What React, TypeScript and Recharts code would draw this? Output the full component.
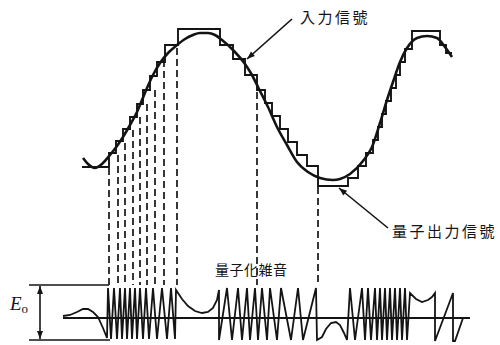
import React from "react";
import {
  ComposedChart,
  Line,
  XAxis,
  YAxis,
  ReferenceLine,
  ReferenceDot
} from "recharts";

// t = time, v = level (grows downward on the page, axis is reversed)
const inputSignal = [
  { t: 83, v: 158 }, { t: 88, v: 164 }, { t: 95, v: 168 }, { t: 102, v: 164 },
  { t: 110, v: 155 }, { t: 117, v: 146 }, { t: 123, v: 137 }, { t: 130, v: 125 },
  { t: 137, v: 112 }, { t: 142, v: 100 }, { t: 147, v: 88 }, { t: 153, v: 75 },
  { t: 160, v: 63 }, { t: 168, v: 53 }, { t: 177, v: 45 }, { t: 185, v: 39 },
  { t: 193, v: 35 }, { t: 200, v: 33 }, { t: 208, v: 33 }, { t: 215, v: 35 },
  { t: 222, v: 40 }, { t: 233, v: 50 }, { t: 245, v: 64 }, { t: 252, v: 75 },
  { t: 258, v: 87 }, { t: 268, v: 107 }, { t: 277, v: 127 }, { t: 287, v: 145 },
  { t: 297, v: 162 }, { t: 308, v: 172 }, { t: 320, v: 178 }, { t: 333, v: 180 },
  { t: 340, v: 179 }, { t: 350, v: 174 }, { t: 363, v: 161 }, { t: 372, v: 147 },
  { t: 380, v: 123 }, { t: 387, v: 100 }, { t: 393, v: 82 }, { t: 400, v: 62 },
  { t: 407, v: 48 }, { t: 417, v: 38 }, { t: 427, v: 36 }, { t: 437, v: 38 },
  { t: 445, v: 47 }, { t: 452, v: 57 }
];

const quantizedOutput = [
  { t: 82, v: 167 }, { t: 109, v: 153 }, { t: 116, v: 141 }, { t: 123, v: 129 },
  { t: 130, v: 117 }, { t: 137, v: 104 }, { t: 143, v: 90 }, { t: 150, v: 76 },
  { t: 157, v: 62 }, { t: 165, v: 45 }, { t: 178, v: 29 }, { t: 220, v: 45 },
  { t: 233, v: 59 }, { t: 245, v: 75 }, { t: 257, v: 90 }, { t: 265, v: 103 },
  { t: 272, v: 116 }, { t: 280, v: 129 }, { t: 288, v: 142 }, { t: 297, v: 155 },
  { t: 307, v: 166 }, { t: 318, v: 186 }, { t: 348, v: 178 }, { t: 358, v: 166 },
  { t: 366, v: 153 }, { t: 373, v: 140 }, { t: 378, v: 127 }, { t: 382, v: 114 },
  { t: 386, v: 101 }, { t: 391, v: 88 }, { t: 396, v: 75 }, { t: 400, v: 62 },
  { t: 405, v: 49 }, { t: 412, v: 31 }, { t: 440, v: 45 }, { t: 446, v: 53 },
  { t: 452, v: 53 }
];

const quantNoise = [
  { t: 63, v: 316 }, { t: 70, v: 315 }, { t: 77, v: 312 }, { t: 83, v: 309 },
  { t: 88, v: 309 }, { t: 93, v: 312 }, { t: 98, v: 317 }, { t: 103, v: 328 },
  { t: 107, v: 338 }, { t: 108, v: 288 }, { t: 111, v: 339 }, { t: 114, v: 288 },
  { t: 117, v: 339 }, { t: 120, v: 288 }, { t: 122, v: 339 }, { t: 125, v: 288 },
  { t: 127, v: 339 }, { t: 130, v: 288 }, { t: 132, v: 339 }, { t: 135, v: 288 },
  { t: 137, v: 339 }, { t: 140, v: 288 }, { t: 143, v: 339 }, { t: 146, v: 288 },
  { t: 149, v: 339 }, { t: 153, v: 288 }, { t: 157, v: 339 }, { t: 162, v: 288 },
  { t: 167, v: 339 }, { t: 171, v: 288 }, { t: 175, v: 339 }, { t: 176, v: 290 },
  { t: 182, v: 299 }, { t: 188, v: 306 }, { t: 195, v: 311 }, { t: 202, v: 313 },
  { t: 208, v: 312 }, { t: 213, v: 308 }, { t: 217, v: 300 }, { t: 219, v: 290 },
  { t: 219, v: 340 }, { t: 227, v: 288 }, { t: 232, v: 340 }, { t: 238, v: 288 },
  { t: 242, v: 340 }, { t: 247, v: 288 }, { t: 250, v: 340 }, { t: 255, v: 288 },
  { t: 258, v: 340 }, { t: 262, v: 288 }, { t: 267, v: 340 }, { t: 270, v: 288 },
  { t: 277, v: 340 }, { t: 281, v: 288 }, { t: 291, v: 340 }, { t: 298, v: 288 },
  { t: 303, v: 340 }, { t: 316, v: 288 }, { t: 317, v: 340 }, { t: 322, v: 337 },
  { t: 326, v: 329 }, { t: 331, v: 323 }, { t: 336, v: 322 }, { t: 340, v: 325 },
  { t: 344, v: 333 }, { t: 347, v: 340 }, { t: 350, v: 288 }, { t: 355, v: 340 },
  { t: 362, v: 288 }, { t: 365, v: 340 }, { t: 368, v: 288 }, { t: 371, v: 340 },
  { t: 375, v: 288 }, { t: 377, v: 340 }, { t: 380, v: 288 }, { t: 382, v: 340 },
  { t: 385, v: 288 }, { t: 387, v: 340 }, { t: 390, v: 288 }, { t: 392, v: 340 },
  { t: 395, v: 288 }, { t: 397, v: 340 }, { t: 400, v: 288 }, { t: 402, v: 340 },
  { t: 405, v: 288 }, { t: 407, v: 340 }, { t: 410, v: 293 }, { t: 416, v: 299 },
  { t: 422, v: 302 }, { t: 428, v: 300 }, { t: 432, v: 297 }, { t: 435, v: 293 },
  { t: 435, v: 341 }, { t: 453, v: 293 }, { t: 453, v: 341 }, { t: 455, v: 341 },
  { t: 463, v: 318 }
];

const noiseAxis = [{ t: 63, v: 318 }, { t: 470, v: 318 }];

// sampling instants (dashed drop lines): time, level where the dash starts
const dashTimes = [109, 118, 125, 133, 140, 147, 155, 164, 177, 257, 318];
const dashTops = [168, 155, 143, 130, 117, 104, 90, 60, 48, 92, 187];
const dashBottom = 285;

const inputLabel = "入力信號";
const outputLabel = "量子出力信號";
const noiseLabel = "量子化雑音";

const INK = "#141414";
const CJK = "'Noto Sans CJK JP', 'Noto Sans CJK SC', sans-serif";

function head(xa: number, ya: number, xb: number, yb: number) {
  const ang = Math.atan2(yb - ya, xb - xa);
  const len = 8;
  const w = 3;
  const bx = xb - len * Math.cos(ang);
  const by = yb - len * Math.sin(ang);
  const px = -Math.sin(ang) * w;
  const py = Math.cos(ang) * w;
  return (
    <polygon
      points={`${xb},${yb} ${bx + px},${by + py} ${bx - px},${by - py}`}
      fill={INK}
    />
  );
}

const arrowShape = (p: any) => (
  <g>
    <line x1={p.x1} y1={p.y1} x2={p.x2} y2={p.y2} stroke={INK} strokeWidth={1.6} />
    {head(p.x1, p.y1, p.x2, p.y2)}
  </g>
);

const doubleArrowShape = (p: any) => (
  <g>
    <line x1={p.x1} y1={p.y1} x2={p.x2} y2={p.y2} stroke={INK} strokeWidth={1.6} />
    {head(p.x1, p.y1, p.x2, p.y2)}
    {head(p.x2, p.y2, p.x1, p.y1)}
  </g>
);

const textShape = (txt: string, size: number, spacing: number) => (p: any) => (
  <text
    x={p.cx}
    y={p.cy}
    fontFamily={CJK}
    fontSize={size}
    letterSpacing={spacing}
    fill={INK}
  >
    {txt}
  </text>
);

const eoShape = (p: any) => (
  <text x={p.cx} y={p.cy} fontFamily="'Liberation Serif', serif" fill={INK}>
    <tspan fontSize={19} fontStyle="italic">E</tspan>
    <tspan fontSize={13} dy={3}>o</tspan>
  </text>
);

export default function App() {
  const lineCommon = {
    dataKey: "v",
    stroke: INK,
    dot: false,
    activeDot: false,
    isAnimationActive: false
  } as const;

  return (
    <div style={{ position: "absolute", left: 0, top: 0, background: "#fff" }}>
      <ComposedChart
        width={500}
        height={345}
        margin={{ top: 0, right: 0, bottom: 0, left: 0 }}
      >
        <XAxis type="number" dataKey="t" domain={[0, 500]} hide allowDataOverflow />
        <YAxis type="number" dataKey="v" domain={[0, 345]} reversed hide allowDataOverflow />

        {dashTimes.map((t, i) => (
          <ReferenceLine
            key={"d" + i}
            segment={[{ x: t, y: dashTops[i] }, { x: t, y: dashBottom }]}
            stroke={INK}
            strokeWidth={1.7}
            strokeDasharray="7 4"
          />
        ))}

        <ReferenceLine segment={[{ x: 29, y: 285 }, { x: 109, y: 285 }]} stroke={INK} strokeWidth={1.5} />
        <ReferenceLine segment={[{ x: 29, y: 340 }, { x: 110, y: 340 }]} stroke={INK} strokeWidth={1.5} />
        <ReferenceLine segment={[{ x: 40, y: 286 }, { x: 40, y: 339 }]} shape={doubleArrowShape} />

        <Line {...lineCommon} data={noiseAxis} type="linear" strokeWidth={1.8} />
        <Line {...lineCommon} data={quantNoise} type="linear" strokeWidth={1.8} />
        <Line {...lineCommon} data={quantizedOutput} type="stepAfter" strokeWidth={1.9} />
        <Line {...lineCommon} data={inputSignal} type="monotone" strokeWidth={2.6} />

        <ReferenceLine segment={[{ x: 292, y: 19 }, { x: 247, y: 59 }]} shape={arrowShape} />
        <ReferenceLine segment={[{ x: 388, y: 228 }, { x: 339, y: 188 }]} shape={arrowShape} />

        <ReferenceDot x={300} y={23} r={0} shape={textShape(inputLabel, 15, 2.5)} />
        <ReferenceDot x={392} y={237} r={0} shape={textShape(outputLabel, 15, 2.5)} />
        <ReferenceDot x={215} y={275} r={0} shape={textShape(noiseLabel, 14, 0.5)} />
        <ReferenceDot x={10} y={310} r={0} shape={eoShape} />
      </ComposedChart>
    </div>
  );
}
